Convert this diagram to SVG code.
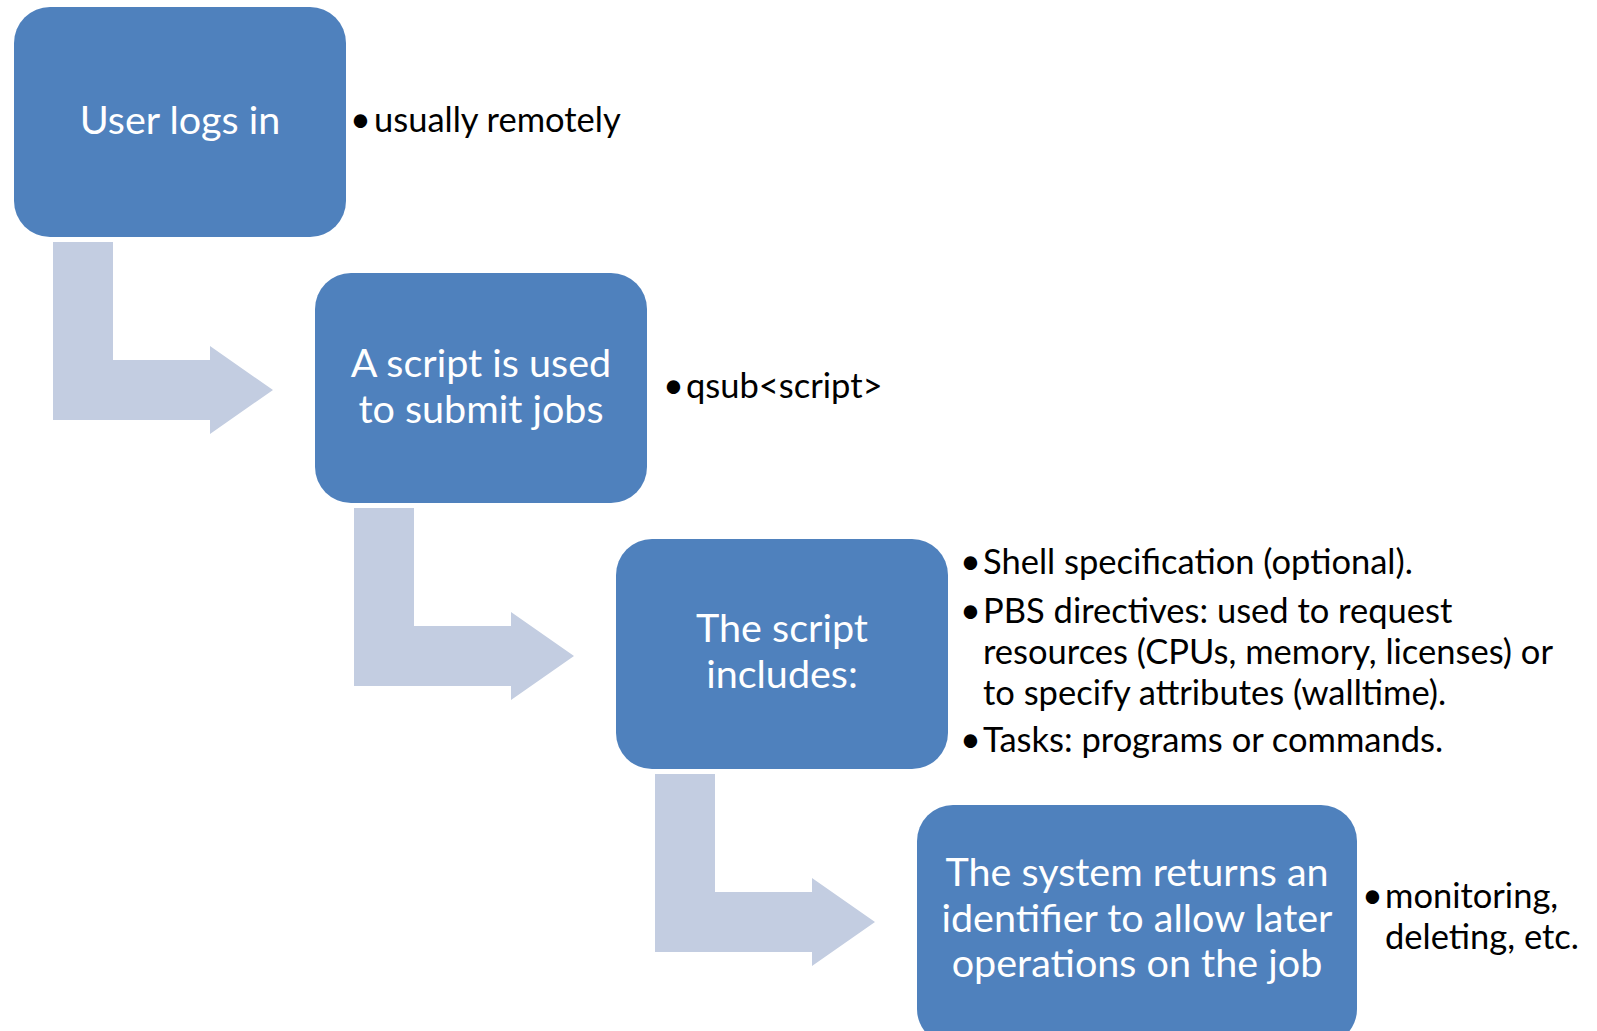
<svg xmlns="http://www.w3.org/2000/svg" width="1597" height="1031" viewBox="0 0 1597 1031">
<style>
.box{fill:#4F81BD;}
.arrow{fill:#C3CDE1;}
.bt{font-family:Lato,"Open Sans","Liberation Sans",sans-serif;font-size:39.5px;fill:#FFFFFF;text-anchor:middle;}
.lt{font-family:Lato,"Open Sans","Liberation Sans",sans-serif;font-size:34.5px;fill:#000000;}
.bu{font-family:Lato,"Open Sans","Liberation Sans",sans-serif;font-size:36px;fill:#000000;}
</style>
<rect width="1597" height="1031" fill="#FFFFFF"/>
<g id="connectors">
<path class="arrow" d="M53,242 H113 V360 H210 V346 L273,390 L210,434 V420 H53 Z"/>
<path class="arrow" transform="translate(301,266)" d="M53,242 H113 V360 H210 V346 L273,390 L210,434 V420 H53 Z"/>
<path class="arrow" transform="translate(602,532)" d="M53,242 H113 V360 H210 V346 L273,390 L210,434 V420 H53 Z"/>
</g>
<g id="node1">
<rect class="box" x="14" y="7" width="332" height="230" rx="36"/>
<text class="bt" x="180" y="134">User logs in</text>
<text class="bu" x="350" y="132">•</text>
<text class="lt" x="374" y="132">usually remotely</text>
</g>
<g id="node2">
<rect class="box" x="315" y="273" width="332" height="230" rx="36"/>
<text class="bt" x="481" y="377">A script is used</text>
<text class="bt" x="481" y="423">to submit jobs</text>
<text class="bu" x="663" y="398">•</text>
<text class="lt" x="686" y="398">qsub&lt;script&gt;</text>
</g>
<g id="node3">
<rect class="box" x="616" y="539" width="332" height="230" rx="36"/>
<text class="bt" x="782" y="642">The script</text>
<text class="bt" x="782" y="688">includes:</text>
<text class="bu" x="960" y="574">•</text>
<text class="lt" x="983" y="574">Shell specification (optional).</text>
<text class="bu" x="960" y="623">•</text>
<text class="lt" x="983" y="623">PBS directives: used to request</text>
<text class="lt" x="983" y="664">resources (CPUs, memory, licenses) or</text>
<text class="lt" x="983" y="705">to specify attributes (walltime).</text>
<text class="bu" x="960" y="752">•</text>
<text class="lt" x="983" y="752">Tasks: programs or commands.</text>
</g>
<g id="node4">
<rect class="box" x="917" y="805" width="440" height="240" rx="36"/>
<text class="bt" x="1137" y="886">The system returns an</text>
<text class="bt" x="1137" y="932">identifier to allow later</text>
<text class="bt" x="1137" y="977">operations on the job</text>
<text class="bu" x="1362" y="908">•</text>
<text class="lt" x="1385" y="908">monitoring,</text>
<text class="lt" x="1385" y="949">deleting, etc.</text>
</g>
</svg>
